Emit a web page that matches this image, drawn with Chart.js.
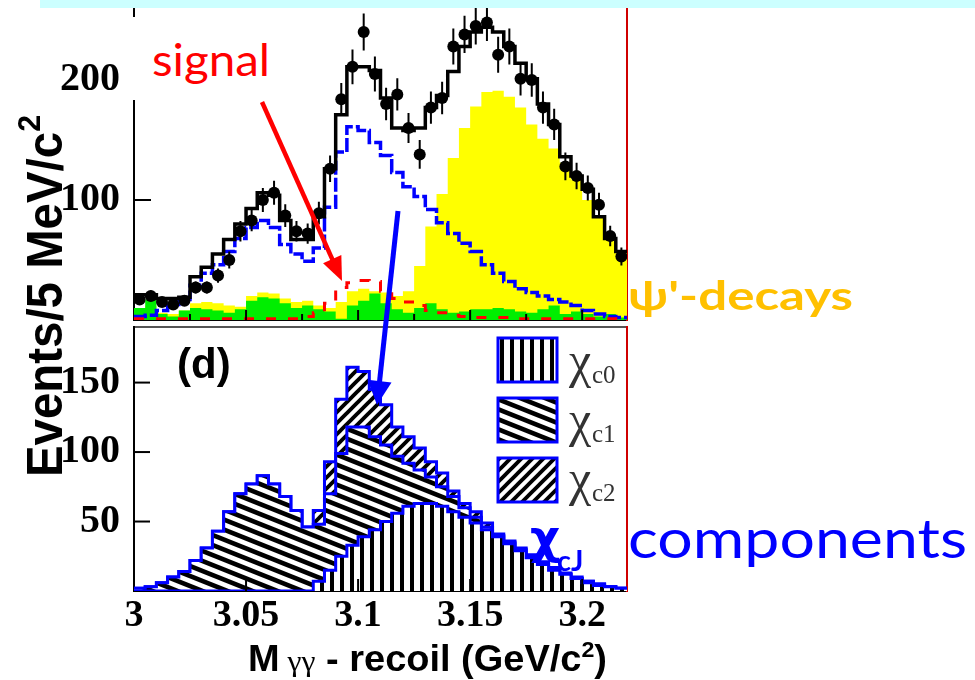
<!DOCTYPE html>
<html>
<head>
<meta charset="utf-8">
<script src="https://cdn.jsdelivr.net/npm/chart.js@4.4.1/dist/chart.umd.min.js"></script>
<style>
  html, body { margin: 0; padding: 0; background: #fff; }
  #stage { position: relative; width: 975px; height: 680px; overflow: hidden; background: #fff; }
  canvas { position: absolute; left: 0; }
  #topPanel { top: 0; }
  #bottomPanel { top: 320px; }
  .txt { position: absolute; white-space: nowrap; line-height: 1; transform-origin: 0 0; }
</style>
</head>
<body>
<div id="stage">
  <canvas id="topPanel" width="975" height="330" style="width:975px;height:330px"></canvas>
  <canvas id="bottomPanel" width="975" height="360" style="width:975px;height:360px"></canvas>

  <div style="position:absolute;left:40px;top:0;width:935px;height:8px;background:#ccffff"></div>
  <div style="position:absolute;left:128px;top:17px;width:170px;height:83px;background:#fff"></div>

  <div class="txt" id="signalLabel" style="left:152px;top:33px;font:44px 'Lato';color:#ff0000">signal</div>
  <div class="txt" id="psipLabel" style="left:628px;top:271px;font:bold 40px 'Lato';color:#ffc000">&psi;'-decays</div>
  <div class="txt" id="compLabel" style="left:628px;top:505px;font:54px 'Lato';color:#0000ff">components</div>
  <div class="txt" style="left:530px;top:509px;font:bold 47px 'DejaVu Sans';color:#0000ff">&chi;</div>
  <div class="txt" style="left:557px;top:542px;font:bold 29px 'Lato';color:#0000ff">cJ</div>
  <div class="txt" style="left:177px;top:340px;font:bold 42px 'Liberation Sans';color:#000">(d)</div>

  <div class="txt" style="left:569px;top:331px;font:50px 'Liberation Serif';color:#333">&chi;</div>
  <div class="txt" style="left:592px;top:361px;font:25px 'Liberation Serif';color:#333">c0</div>
  <div class="txt" style="left:569px;top:390px;font:50px 'Liberation Serif';color:#333">&chi;</div>
  <div class="txt" style="left:592px;top:420px;font:25px 'Liberation Serif';color:#333">c1</div>
  <div class="txt" style="left:569px;top:449px;font:50px 'Liberation Serif';color:#333">&chi;</div>
  <div class="txt" style="left:592px;top:479px;font:25px 'Liberation Serif';color:#333">c2</div>

  <div class="txt" id="xTitle" style="left:248px;top:640px;font:bold 36px 'Liberation Sans';color:#000;line-height:38px">M<span style="font:30px 'Liberation Serif'"> &gamma;&gamma;</span> - recoil (GeV/c<span style="font-size:22px;position:relative;top:-14px">2</span>)</div>
  <div class="txt" id="yTitle" style="font:bold 50px 'Liberation Sans';color:#000">Events/5 MeV/c<span style="font-size:32px;position:relative;top:-22px">2</span></div>

  <svg id="arrows" width="975" height="680" style="position:absolute;left:0;top:0"></svg>
</div>

<script>
// Lower edges of the 5 MeV/c^2 mass bins (GeV/c^2)
const massBinLow = [3.000, 3.005, 3.010, 3.015, 3.020, 3.025, 3.030, 3.035, 3.040, 3.045,
                    3.050, 3.055, 3.060, 3.065, 3.070, 3.075, 3.080, 3.085, 3.090, 3.095,
                    3.100, 3.105, 3.110, 3.115, 3.120, 3.125, 3.130, 3.135, 3.140, 3.145,
                    3.150, 3.155, 3.160, 3.165, 3.170, 3.175, 3.180, 3.185, 3.190, 3.195,
                    3.200, 3.205, 3.210, 3.215];
const binWidth = 0.005;

// Upper panel: observed counts and their errors
const dataCounts = [17, 20, 15, 13, 16, 27, 27, 37, 50, 74,
                    83, 100, 106, 87, 74, 72, 89, 126, 184, 211,
                    240, 205, 180, 188, 160, 138, 177, 185, 228, 238,
                    245, 248, 221, 228, 201, 200, 177, 163, 128, 120,
                    110, 96, 70, 53];
const dataErrors = [4, 4.5, 4, 3.5, 4, 5, 5, 6, 7, 8.5,
                    9, 10, 10, 9.5, 8.5, 8.5, 9.5, 11, 13.5, 14.5,
                    15.5, 14.5, 13.5, 13.5, 12.5, 12, 13.5, 13.5, 15, 15.5,
                    15.5, 15.5, 15, 15, 14, 14, 13.5, 13, 11.5, 11,
                    10.5, 10, 8.5, 7.5];

// Upper panel: fit result and its pieces
const fitTotal = [21, 21, 18, 18, 19, 36, 44, 55, 67, 80,
                  93, 106, 104, 83, 67, 67, 86, 126, 171, 211,
                  211, 208, 185, 160, 158, 160, 177, 187, 207, 228,
                  240, 244, 240, 228, 214, 201, 180, 163, 136, 120,
                  109, 86, 68, 57];
const chicJTotal = [3, 4, 8, 13, 17, 29, 39, 46, 57, 68,
                    77, 83, 77, 63, 55, 49, 60, 94, 140, 161,
                    158, 148, 137, 123, 111, 103, 92, 81, 72, 64,
                    57, 46, 39, 32, 26, 23, 20, 17, 15, 12,
                    8, 5, 3, 2];
const signalShape = [1, 1, 1, 1, 1, 1, 1, 1, 1, 1,
                     1, 1, 1, 1, 1, 3, 6, 14, 27, 31,
                     33, 32, 24, 18, 15, 12, 8, 6, 4, 3,
                     2, 2, 2, 2, 1, 1, 1, 1, 1, 1,
                     1, 1, 1, 1];
const psipDecays = [10, 12, 6, 5, 8, 14, 15, 14, 12, 11,
                    20, 23, 22, 18, 15, 16, 12, 10, 15, 24,
                    26, 24, 23, 20, 24, 45, 78, 105, 135, 160,
                    178, 190, 191, 186, 177, 163, 151, 143, 131, 117,
                    100, 86, 68, 56];
const otherBkg = [10, 17, 5, 3, 8, 10, 9, 8, 6, 9,
                  16, 19, 18, 14, 10, 12, 9, 7, 1, 12,
                  16, 22, 14, 9, 6, 10, 14, 9, 6, 7,
                  9, 9, 10, 9, 7, 6, 9, 12, 5, 7,
                  5, 3, 5, 2];

// Lower panel: chi_cJ components (stacked)
const chic0 = [0, 0, 0, 0, 0, 0, 0, 0, 0, 0,
               0, 0, 0, 0, 0, 0, 7, 15, 25, 33,
               39, 44, 50, 56, 61, 63, 63, 61, 57, 53,
               49, 44, 39, 34, 29, 24, 19, 15, 12, 9,
               6, 4, 3, 2];
const chic1 = [2, 3, 6, 10, 14, 22, 31, 43, 57, 70,
               77, 83, 77, 68, 58, 46, 41, 55, 74, 85,
               79, 67, 55, 41, 31, 24, 19, 14, 11, 7,
               4, 2, 1, 1, 1, 1, 1, 1, 0, 0,
               1, 1, 0, 0];
const chic2 = [0, 0, 0, 0, 0, 0, 0, 0, 0, 0,
               0, 0, 0, 0, 0, 0, 10, 23, 39, 43,
               40, 34, 29, 21, 19, 16, 11, 10, 4, 3,
               4, 3, 1, 1, 1, 1, 1, 1, 1, 1,
               0, 0, 0, 0];

const componentLabels = ['χc0', 'χc1', 'χc2'];

// ---- helpers ----
function histPoints(vals) {
  const pts = massBinLow.map((x, i) => ({ x, y: vals[i] }));
  pts.push({ x: massBinLow[massBinLow.length - 1] + binWidth, y: vals[vals.length - 1] });
  return pts;
}
const binCenters = massBinLow.map(x => x + binWidth / 2);
const dotPoints = binCenters.map((x, i) => ({ x, y: dataCounts[i] }));
const errorPoints = [];
binCenters.forEach((x, i) => {
  errorPoints.push({ x, y: dataCounts[i] - dataErrors[i] }, { x, y: dataCounts[i] + dataErrors[i] }, { x, y: null });
});

function zeroPad(s) { s.paddingLeft = 0; s.paddingRight = 0; s.paddingTop = 0; s.paddingBottom = 0; }

function hatch(kind) {
  const c = document.createElement('canvas');
  let w = 10, h = 10;
  if (kind === 'desc') { w = 25; h = 10; }
  if (kind === 'asc') { w = 11; h = 11; }
  c.width = w; c.height = h;
  const g = c.getContext('2d');
  g.fillStyle = '#fff'; g.fillRect(0, 0, w, h);
  g.fillStyle = '#000'; g.strokeStyle = '#000';
  if (kind === 'vert') {
    g.fillRect(0, 0, 4, h);
  } else if (kind === 'desc') {
    g.lineWidth = 4.6;
    for (let k = -1; k <= 1; k++) { g.beginPath(); g.moveTo(-2, k * h - 2 * h / w); g.lineTo(w + 2, k * h + h + 2 * h / w); g.stroke(); }
  } else {
    g.lineWidth = 3.8;
    for (let k = -1; k <= 1; k++) { g.beginPath(); g.moveTo(-2, h + k * h + 2); g.lineTo(w + 2, k * h - 2); g.stroke(); }
  }
  return g.createPattern(c, 'repeat');
}

// Tick marks pointing into the frame, long on major steps
const innerTicks = {
  id: 'innerTicks',
  afterDatasetsDraw(chart, args, opts) {
    const { ctx, chartArea } = chart;
    ctx.save();
    ctx.strokeStyle = '#000';
    ctx.lineWidth = 2;
    ['x', 'y'].forEach(id => {
      const spec = opts[id];
      const s = chart.scales[id];
      if (!spec || !s) return;
      s.ticks.forEach(t => {
        if (t.value <= s.min + 1e-9 || t.value >= s.max - 1e-9) return;
        const q = t.value / spec.major;
        const len = Math.abs(q - Math.round(q)) < 1e-6 ? spec.long : spec.short;
        const p = s.getPixelForValue(t.value);
        ctx.beginPath();
        if (s.isHorizontal()) { ctx.moveTo(p, chartArea.bottom); ctx.lineTo(p, chartArea.bottom - len); }
        else { ctx.moveTo(chartArea.left, p); ctx.lineTo(chartArea.left + len, p); }
        ctx.stroke();
      });
    });
    ctx.restore();
  }
};

// Hatched boxes for the component key
const hatchKey = {
  id: 'hatchKey',
  afterDatasetsDraw(chart) {
    const { ctx, chartArea } = chart;
    chart.data.datasets.forEach((ds, i) => {
      const x = chartArea.right - 129, y = chartArea.top + 11 + i * 60;
      ctx.save();
      ctx.fillStyle = ds.backgroundColor;
      ctx.fillRect(x, y, 59, 44);
      ctx.strokeStyle = ds.borderColor;
      ctx.lineWidth = 3;
      ctx.strokeRect(x, y, 59, 44);
      ctx.restore();
    });
  }
};

const tickFont = { family: 'Liberation Serif', weight: 'bold', size: 40 };
const massLabel = v => { const q = v / 0.05; return Math.abs(q - Math.round(q)) < 1e-6 ? String(+v.toFixed(2)) : null; };

// ---- upper panel ----
new Chart(document.getElementById('topPanel'), {
  type: 'line',
  data: {
    datasets: [
      { label: 'data', data: dotPoints, showLine: false, pointRadius: 6, pointHoverRadius: 6, pointBackgroundColor: '#000', pointBorderWidth: 0, order: 0 },
      { label: 'errors', data: errorPoints, borderColor: '#000', borderWidth: 2, pointRadius: 0, spanGaps: false, order: 1 },
      { label: 'fit', data: histPoints(fitTotal), stepped: true, borderColor: '#000', borderWidth: 3.5, pointRadius: 0, order: 2 },
      { label: 'signal', data: histPoints(signalShape), stepped: true, borderColor: '#ff0000', borderWidth: 3, borderDash: [10, 12], pointRadius: 0, order: 3 },
      { label: 'chicJ', data: histPoints(chicJTotal), stepped: true, borderColor: '#0000ff', borderWidth: 3.5, borderDash: [14, 3], pointRadius: 0, order: 4 },
      { label: 'other', data: histPoints(otherBkg), stepped: true, borderColor: 'rgba(0,0,0,0)', borderWidth: 1, backgroundColor: '#00ee00', fill: 'origin', pointRadius: 0, order: 5 },
      { label: 'psip', data: histPoints(psipDecays), stepped: true, borderColor: 'rgba(0,0,0,0)', borderWidth: 1, backgroundColor: '#ffff00', fill: 'origin', pointRadius: 0, order: 6 }
    ]
  },
  options: {
    responsive: false, animation: false, devicePixelRatio: 1,
    layout: { padding: { left: 0, right: 348, top: 8, bottom: 10 } },
    plugins: {
      legend: { display: false }, tooltip: { enabled: false },
      innerTicks: { x: { major: 0.05, long: 10, short: 6 }, y: { major: 100, long: 17, short: 9 } }
    },
    scales: {
      x: {
        type: 'linear', min: 3, max: 3.22,
        ticks: { display: false, stepSize: 0.025, includeBounds: false },
        grid: { drawOnChartArea: false, drawTicks: false },
        border: { display: true, color: '#000', width: 2 },
        afterFit: s => { s.height = 0; zeroPad(s); }
      },
      y: {
        min: 0, max: 260,
        ticks: { stepSize: 50, autoSkip: false, font: tickFont, color: '#000', padding: 14,
                 callback: v => (v === 100 || v === 200) ? String(v) : null },
        grid: { drawOnChartArea: false, drawTicks: false },
        border: { display: true, color: '#000', width: 2 },
        afterFit: s => { s.width = 134; zeroPad(s); }
      },
      yr: {
        position: 'right', min: 0, max: 260,
        ticks: { display: false },
        grid: { drawOnChartArea: false, drawTicks: false },
        border: { display: true, color: '#d00000', width: 2 },
        afterFit: s => { s.width = 0; zeroPad(s); }
      }
    }
  },
  plugins: [innerTicks]
});

// ---- lower panel ----
const componentStyles = [hatch('vert'), hatch('desc'), hatch('asc')];
new Chart(document.getElementById('bottomPanel'), {
  type: 'line',
  data: {
    datasets: [chic0, chic1, chic2].map((vals, i) => ({
      label: componentLabels[i],
      data: histPoints(vals),
      stepped: true,
      fill: i === 0 ? 'origin' : '-1',
      backgroundColor: componentStyles[i],
      borderColor: '#0000ff',
      borderWidth: 3,
      pointRadius: 0
    }))
  },
  options: {
    responsive: false, animation: false, devicePixelRatio: 1,
    layout: { padding: { left: 0, right: 348, top: 7, bottom: 29 } },
    plugins: {
      legend: { display: false }, tooltip: { enabled: false },
      innerTicks: { x: { major: 0.05, long: 12, short: 6 }, y: { major: 50, long: 16, short: 8 } }
    },
    scales: {
      x: {
        type: 'linear', min: 3, max: 3.22,
        ticks: { stepSize: 0.025, includeBounds: false, autoSkip: false, maxRotation: 0, minRotation: 0, callback: massLabel,
                 font: { family: 'Liberation Serif', weight: 'bold', size: 38 }, color: '#000', padding: 2 },
        grid: { drawOnChartArea: false, drawTicks: false },
        border: { display: true, color: '#000', width: 2 },
        afterFit: s => { s.height = 60; zeroPad(s); }
      },
      xt: {
        type: 'linear', position: 'top', min: 3, max: 3.22,
        ticks: { display: false },
        grid: { drawOnChartArea: false, drawTicks: false },
        border: { display: true, color: '#555', width: 2 },
        afterFit: s => { s.height = 0; zeroPad(s); }
      },
      y: {
        stacked: true, min: 0, max: 190,
        ticks: { stepSize: 25, autoSkip: false, font: tickFont, color: '#000', padding: 14,
                 callback: v => (v === 50 || v === 100 || v === 150) ? String(v) : null },
        grid: { drawOnChartArea: false, drawTicks: false },
        border: { display: true, color: '#000', width: 2 },
        afterFit: s => { s.width = 134; zeroPad(s); }
      },
      yr: {
        position: 'right', min: 0, max: 190,
        ticks: { display: false },
        grid: { drawOnChartArea: false, drawTicks: false },
        border: { display: true, color: '#d00000', width: 2 },
        afterFit: s => { s.width = 0; zeroPad(s); }
      }
    }
  },
  plugins: [innerTicks, hatchKey]
});

// ---- annotation text sizing ----
function fitWidth(id, width) {
  const el = document.getElementById(id);
  const w = el.getBoundingClientRect().width;
  el.style.transform = 'scaleX(' + (width / w) + ')';
}
fitWidth('signalLabel', 118);
fitWidth('psipLabel', 225);
fitWidth('compLabel', 339);
fitWidth('xTitle', 359);

(function placeYTitle(cx, cy, len) {
  const el = document.getElementById('yTitle');
  const r = el.getBoundingClientRect();
  el.style.left = (cx - r.width / 2) + 'px';
  el.style.top = (cy - r.height / 2) + 'px';
  el.style.transformOrigin = '50% 50%';
  el.style.transform = 'rotate(-90deg) scaleX(' + (len / r.width) + ')';
})(45, 296, 362);

// ---- arrows ----
function arrow(svg, x0, y0, x1, y1, color, width, headLen, headHalf) {
  const dx = x1 - x0, dy = y1 - y0, L = Math.hypot(dx, dy);
  const ux = dx / L, uy = dy / L, nx = -uy, ny = ux;
  const bx = x1 - ux * headLen, by = y1 - uy * headLen;
  const ns = 'http://www.w3.org/2000/svg';
  const line = document.createElementNS(ns, 'line');
  line.setAttribute('x1', x0); line.setAttribute('y1', y0);
  line.setAttribute('x2', bx + ux * 2); line.setAttribute('y2', by + uy * 2);
  line.setAttribute('stroke', color); line.setAttribute('stroke-width', width);
  svg.appendChild(line);
  const head = document.createElementNS(ns, 'polygon');
  head.setAttribute('points', [x1, y1, bx + nx * headHalf, by + ny * headHalf, bx - nx * headHalf, by - ny * headHalf].join(' '));
  head.setAttribute('fill', color);
  svg.appendChild(head);
}
const svg = document.getElementById('arrows');
arrow(svg, 262, 102, 342, 281, '#ff0000', 4.5, 24, 10);
arrow(svg, 398, 211, 377, 405, '#0000ff', 5, 24, 12);
</script>
</body>
</html>
